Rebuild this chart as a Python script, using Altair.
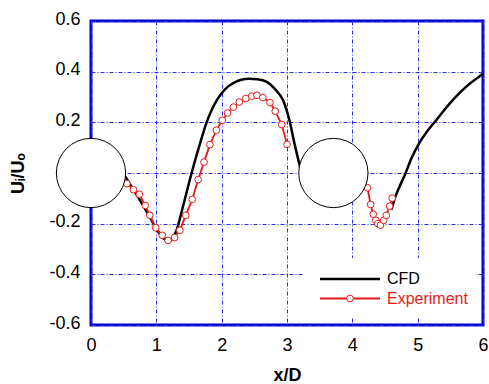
import altair as alt
import pandas as pd

# ---- CFD (two segments, between and after the cylinders) ----
cfd_x1 = [0.49, 0.6, 0.75, 0.9, 1.0, 1.1, 1.18, 1.25, 1.31, 1.4, 1.54, 1.65, 1.77, 1.84, 1.92,
          2.0, 2.1, 2.2, 2.3, 2.42, 2.55, 2.69, 2.82, 2.94, 3.04, 3.12, 3.2]
cfd_y1 = [0.0, -0.045, -0.108, -0.174, -0.22, -0.255, -0.272, -0.257, -0.226, -0.14, 0.0, 0.1,
          0.2, 0.245, 0.285, 0.315, 0.342, 0.358, 0.368, 0.372, 0.37, 0.36, 0.33, 0.287, 0.205,
          0.11, 0.024]
cfd_x2 = [4.6, 4.65, 4.72, 4.8, 4.9, 5.02, 5.14, 5.26, 5.38, 5.49, 5.62, 5.74, 5.87, 6.0]
cfd_y2 = [-0.145, -0.1, -0.055, -0.01, 0.055, 0.116, 0.163, 0.201, 0.24, 0.274, 0.31, 0.34,
          0.367, 0.392]

# ---- Experiment ----
exp_x1 = [0.55, 0.65, 0.74, 0.83, 0.9, 0.99, 1.09, 1.18, 1.28, 1.36, 1.45, 1.55, 1.64, 1.73,
          1.82, 1.92, 2.01, 2.09, 2.18, 2.27, 2.37, 2.46, 2.54, 2.63, 2.74, 2.82, 2.92, 3.0]
exp_y1 = [-0.042, -0.066, -0.084, -0.128, -0.167, -0.216, -0.246, -0.266, -0.255, -0.226,
          -0.167, -0.104, -0.026, 0.043, 0.112, 0.169, 0.208, 0.237, 0.26, 0.28, 0.294, 0.303,
          0.307, 0.298, 0.278, 0.244, 0.191, 0.113]
exp_x2 = [4.23, 4.28, 4.32, 4.36, 4.39, 4.43, 4.48, 4.52, 4.57, 4.61]
exp_y2 = [-0.058, -0.124, -0.163, -0.187, -0.2, -0.206, -0.187, -0.167, -0.131, -0.099]

# ---- Cylinders ----
cyl_x = [0.0, 3.71]
cyl_y = [0.0, 0.0]

legend_labels = ["CFD", "Experiment"]
x_ticks = [0, 1, 2, 3, 4, 5, 6]
y_ticks = [-0.6, -0.4, -0.2, 0.0, 0.2, 0.4, 0.6]

RED = "#e41b1b"
FONT = "Liberation Sans"

cfd = pd.DataFrame({
    "x": cfd_x1 + cfd_x2,
    "y": cfd_y1 + cfd_y2,
    "seg": ["a"] * len(cfd_x1) + ["b"] * len(cfd_x2),
})
cfd["i"] = range(len(cfd))
exp = pd.DataFrame({
    "x": exp_x1 + exp_x2,
    "y": exp_y1 + exp_y2,
    "seg": ["a"] * len(exp_x1) + ["b"] * len(exp_x2),
})
exp["i"] = range(len(exp))
cyl = pd.DataFrame({"x": cyl_x, "y": cyl_y})

xs = alt.Scale(domain=[0, 6], nice=False, zero=False)
ys = alt.Scale(domain=[-0.6, 0.6], nice=False, zero=False)

x_axis = alt.Axis(values=x_ticks, title="x/D", format="d", labelFlush=False, labelOverlap=False,
                  labelPadding=25, labelBaseline="alphabetic",
                  titleX=196, titleY=55, titleBaseline="alphabetic", titleAlign="center")
y_axis = alt.Axis(values=y_ticks, title="Uᵢ/Uₒ", labelFlush=False, labelOverlap=False,
                  labelExpr="datum.value == 0 ? '' : replace(format(datum.value, '.1f'), '\u2212', '-')",
                  labelPadding=11, labelBaseline="middle", labelOffset=-2,
                  titleX=-68, titleY=152, titleAngle=270, titleBaseline="alphabetic",
                  titleAlign="center")

X = alt.X("x:Q", scale=xs, axis=x_axis)
Y = alt.Y("y:Q", scale=ys, axis=y_axis)

cfd_line = alt.Chart(cfd).mark_line(color="black", strokeWidth=2.5, interpolate="monotone").encode(
    x=X, y=Y, detail="seg:N", order="i:Q")
exp_line = alt.Chart(exp).mark_line(color=RED, strokeWidth=1.8).encode(
    x=X, y=Y, detail="seg:N", order="i:Q")
exp_pts = alt.Chart(exp).mark_point(shape="circle", filled=True, fill="white", stroke=RED,
                                     strokeWidth=1, size=45, opacity=1).encode(x=X, y=Y)
cyl_pts = alt.Chart(cyl).mark_point(shape="circle", filled=True, fill="white", stroke="black",
                                     strokeWidth=1, size=4800, opacity=1).encode(x=X, y=Y)

# ---- legend (drawn manually) ----
one = pd.DataFrame({"k": [0]})
leg_box = alt.Chart(one).mark_rect(fill="white", stroke=None).encode(
    x=alt.value(212), x2=alt.value(385), y=alt.value(237), y2=alt.value(296))
leg_cfd_line = alt.Chart(one).mark_rule(color="black", strokeWidth=2.5).encode(
    x=alt.value(229), x2=alt.value(289), y=alt.value(258))
leg_exp_line = alt.Chart(one).mark_rule(color=RED, strokeWidth=2).encode(
    x=alt.value(229), x2=alt.value(289), y=alt.value(277.5))
leg_exp_pt = alt.Chart(one).mark_point(shape="circle", filled=True, fill="white", stroke=RED,
                                        strokeWidth=1, size=45, opacity=1).encode(
    x=alt.value(259), y=alt.value(277.5))
leg_df = pd.DataFrame({"label": legend_labels})
leg_txt_cfd = alt.Chart(leg_df).transform_filter("datum.label == 'CFD'").mark_text(
    align="left", baseline="middle", font=FONT, fontSize=16, color="black").encode(
    x=alt.value(296), y=alt.value(258), text="label:N")
leg_txt_exp = alt.Chart(leg_df).transform_filter("datum.label == 'Experiment'").mark_text(
    align="left", baseline="middle", font=FONT, fontSize=16, color=RED).encode(
    x=alt.value(296), y=alt.value(278), text="label:N")

chart = alt.layer(
    cfd_line, exp_line, exp_pts, cyl_pts,
    leg_box, leg_cfd_line, leg_exp_line, leg_exp_pt, leg_txt_cfd, leg_txt_exp,
).properties(
    width=392, height=304,
    autosize=alt.AutoSizeParams(type="none"),
    padding={"left": 91, "top": 21, "right": 6, "bottom": 59},
    background="white",
).configure_view(
    stroke="#0000cc", strokeWidth=3
).configure_axis(
    domain=False, ticks=False, tickSize=0,
    labelFont=FONT, labelFontSize=18, labelColor="black",
    titleFont=FONT, titleFontSize=18, titleFontWeight="bold", titleColor="black",
    grid=True, gridColor="#2a2af0", gridDash=[4, 2, 1, 2], gridWidth=1, gridOpacity=1,
)

chart.save("out.html", embed_options={"renderer": "svg", "actions": False})
